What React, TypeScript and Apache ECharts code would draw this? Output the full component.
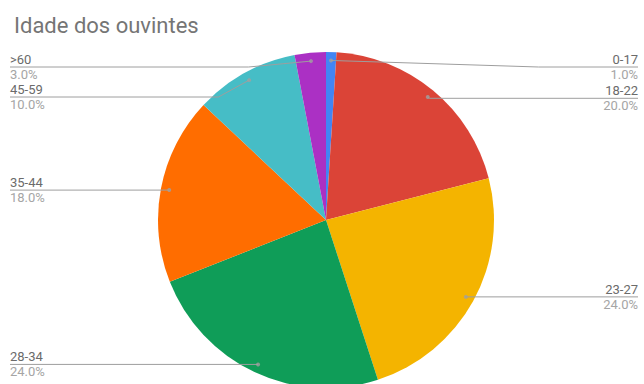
import React, { useEffect, useRef } from "react";
import * as echarts from "echarts";

const categories = ["0-17", "18-22", "23-27", "28-34", "35-44", "45-59", ">60"];
const values = [1, 20, 24, 24, 18, 10, 3];
const colors = ["#4285f4", "#db4437", "#f4b400", "#0f9d58", "#ff6d00", "#46bdc6", "#ab30c4"];

export default function App() {
  const ref = useRef<HTMLDivElement>(null);
  useEffect(() => {
    document.body.style.margin = "0";
    const chart = echarts.init(ref.current!, null, { renderer: "svg" });
    const total = values.reduce((a, b) => a + b, 0);
    const data = categories.map((c, i) => ({ name: c, value: values[i], itemStyle: { color: colors[i] } }));
    let acc = 0;
    const midPct = values.map((v) => {
      const m = ((acc + v / 2) / total) * 100;
      acc += v;
      return m;
    });
    const mids = midPct.map((m) => [0.95, m]);
    // labels near the top of the pie are laid out as their own group
    const nearTop = midPct.map((m) => Math.cos((m / 100) * 2 * Math.PI) > 0.7);

    const cx = 326, cy = 220, R = 168;
    const vLeft = 6, vTop = 52, vRight = 2, vBottom = 0;

    const labelCfg = {
      show: true,
      position: "outside",
      alignTo: "edge",
      edgeDistance: 4,
      formatter: (p: any) => `{n|${p.name}}\n{p|${((p.value / total) * 100).toFixed(1)}%}`,
      rich: {
        n: { fontFamily: "Roboto", fontSize: 13, lineHeight: 15, color: "#6b6b6b" },
        p: { fontFamily: "Roboto", fontSize: 13, lineHeight: 15, color: "#a5a5a5" },
      },
    };
    const overlay = (top: boolean) => ({
      type: "pie",
      left: vLeft,
      top: vTop,
      right: vRight,
      bottom: vBottom,
      center: [cx - vLeft, cy - vTop],
      radius: R * 0.95,
      startAngle: 90,
      clockwise: true,
      silent: true,
      data: categories.map((c, i) => ({
        name: c,
        value: values[i],
        label: { show: nearTop[i] === top },
        labelLine: { show: nearTop[i] === top },
      })),
      itemStyle: { color: "rgba(0,0,0,0)" },
      z: 3,
      label: labelCfg,
      labelLine: {
        show: true,
        length: 0,
        length2: 10,
        lineStyle: { color: "#9e9e9e", width: 1 },
      },
      labelLayout: (p: any) => {
        const pts = p.labelLinePoints;
        if (!pts || pts.length < 3) return {};
        const r = p.labelRect;
        const right = r.x + r.width / 2 > cx;
        const np = pts.map((q: number[]) => [q[0], q[1]]);
        np[2][0] = right ? r.x + r.width : r.x;
        return { labelLinePoints: np };
      },
    });

    chart.setOption({
      animation: false,
      title: {
        text: "Idade dos ouvintes",
        left: 9,
        top: 9,
        textStyle: { fontFamily: "Roboto", fontSize: 22, fontWeight: "normal", color: "#757575" },
      },
      polar: { center: [cx, cy], radius: R },
      angleAxis: { type: "value", min: 0, max: 100, startAngle: 90, clockwise: true, show: false },
      radiusAxis: { type: "value", min: 0, max: 1, show: false },
      series: [
        {
          type: "pie",
          left: vLeft,
          top: vTop,
          right: vRight,
          bottom: vBottom,
          center: [cx - vLeft, cy - vTop],
          radius: R,
          startAngle: 90,
          clockwise: true,
          data,
          label: { show: false },
          labelLine: { show: false },
          silent: true,
          z: 1,
        },
        overlay(true),
        overlay(false),
        {
          type: "scatter",
          coordinateSystem: "polar",
          data: mids,
          symbolSize: 4,
          itemStyle: { color: "#a0a0a0" },
          silent: true,
          z: 4,
        },
      ],
    });
    return () => chart.dispose();
  }, []);
  return <div ref={ref} style={{ width: 644, height: 384 }} />;
}
